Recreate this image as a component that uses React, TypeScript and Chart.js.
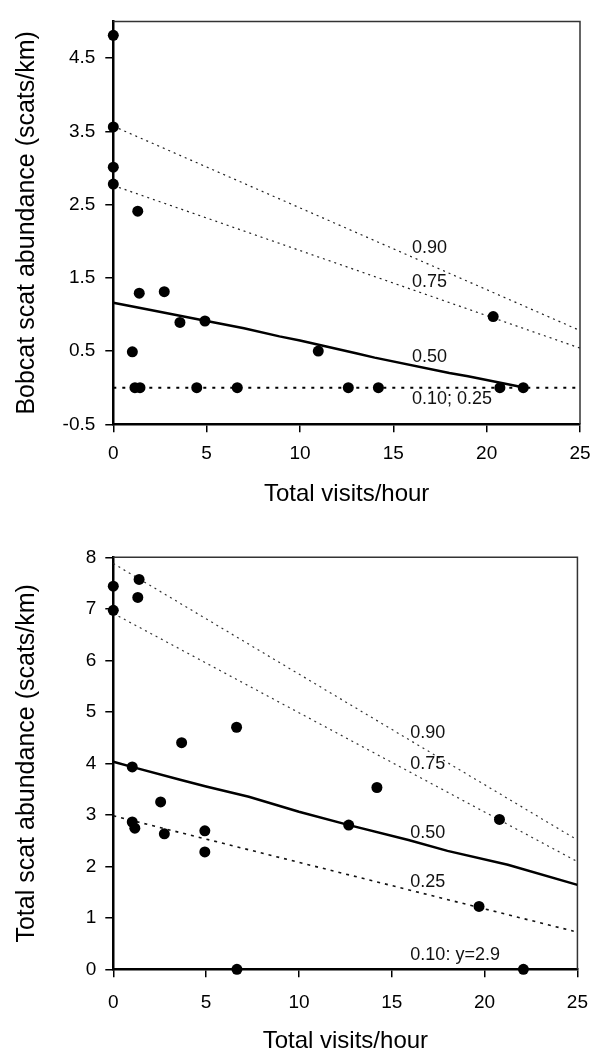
import React, { useEffect, useRef } from "react";
import { Chart, registerables } from "chart.js";

Chart.register(...registerables);

const FONT = "'Liberation Sans', Arial, Helvetica, sans-serif";

// ---------- shared axis ----------
const X_TICKS = [0, 5, 10, 15, 20, 25];
const X_TITLE = "Total visits/hour";

// ---------- top chart: bobcat ----------
const BOBCAT_Y_TICKS = [-0.5, 0.5, 1.5, 2.5, 3.5, 4.5];
const BOBCAT_Y_TITLE = "Bobcat scat abundance (scats/km)";
const BOBCAT_X = [0, 0, 0, 0, 1.31, 1.39, 2.73, 3.57, 4.91, 1.02, 1.16, 1.43, 4.47, 6.64, 10.98, 12.59, 14.2, 20.35, 20.71, 21.96];
const BOBCAT_Y = [4.81, 3.56, 3.01, 2.78, 2.41, 1.29, 1.31, 0.89, 0.91, 0.49, 0, 0, 0, 0, 0.5, 0, 0, 0.97, 0, 0];

const BOBCAT_Q90_X = [0, 25];
const BOBCAT_Q90_Y = [3.57, 0.78];
const BOBCAT_Q75_X = [0, 25];
const BOBCAT_Q75_Y = [2.76, 0.54];
const BOBCAT_Q50_X = [0, 2, 5, 7, 8.9, 10, 13, 14, 18, 19, 21.6, 22];
const BOBCAT_Q50_Y = [1.16, 1.06, 0.91, 0.81, 0.7, 0.645, 0.47, 0.41, 0.2, 0.157, 0.023, 0];
const BOBCAT_Q10_X = [0, 25];
const BOBCAT_Q10_Y = [0, 0];

const BOBCAT_LABEL_TEXT = ["0.90", "0.75", "0.50", "0.10; 0.25"];
const BOBCAT_LABEL_X = [16, 16, 16, 16];
const BOBCAT_LABEL_Y = [1.91, 1.44, 0.42, -0.16];

// ---------- bottom chart: total ----------
const TOTAL_Y_TICKS = [0, 1, 2, 3, 4, 5, 6, 7, 8];
const TOTAL_Y_TITLE = "Total scat abundance (scats/km)";
const TOTAL_X = [0, 0, 1.39, 1.32, 3.68, 6.64, 1.02, 2.55, 1.02, 1.16, 2.75, 4.93, 4.93, 6.66, 14.2, 12.68, 20.8, 19.7, 22.09];
const TOTAL_Y = [7.44, 6.97, 7.57, 7.22, 4.4, 4.7, 3.93, 3.25, 2.86, 2.74, 2.63, 2.69, 2.28, 0, 3.53, 2.8, 2.91, 1.22, 0];

const TOTAL_Q90_X = [0, 25];
const TOTAL_Q90_Y = [7.88, 2.51];
const TOTAL_Q75_X = [0, 25];
const TOTAL_Q75_Y = [6.91, 2.09];
const TOTAL_Q50_X = [0, 1, 3.6, 5, 7.3, 10, 12.7, 15.9, 18, 21.25, 25];
const TOTAL_Q50_Y = [4.03, 3.93, 3.68, 3.55, 3.35, 3.06, 2.8, 2.51, 2.3, 2.03, 1.64];
const TOTAL_Q25_X = [0, 24.8];
const TOTAL_Q25_Y = [2.98, 0.74];

const TOTAL_LABEL_TEXT = ["0.90", "0.75", "0.50", "0.25", "0.10: y=2.9"];
const TOTAL_LABEL_X = [16, 16, 16, 16, 16];
const TOTAL_LABEL_Y = [4.58, 3.99, 2.64, 1.7, 0.28];

const zip = (xs: number[], ys: number[]) => xs.map((x, i) => ({ x, y: ys[i] }));

type LineSpec = { xs: number[]; ys: number[]; dash: number[]; color: string; width: number };

type Spec = {
  px: number[];
  py: number[];
  lines: LineSpec[];
  labelText: string[];
  labelX: number[];
  labelY: number[];
  yMin: number;
  yMax: number;
  yTicks: number[];
  yTitle: string;
  padTop: number;
  padBottom: number;
  xAxisHeight: number;
  xTickPad: number;
  yTickPad: number;
};

function makeChart(canvas: HTMLCanvasElement, s: Spec) {
  const plugin = {
    id: "frameAndLabels",
    beforeDatasetsDraw(chart: any) {
      const { ctx, chartArea } = chart;
      ctx.save();
      ctx.strokeStyle = "#333";
      ctx.lineWidth = 1.5;
      ctx.beginPath();
      ctx.moveTo(chartArea.left, chartArea.top);
      ctx.lineTo(chartArea.right, chartArea.top);
      ctx.lineTo(chartArea.right, chartArea.bottom);
      ctx.stroke();
      ctx.restore();
    },
    afterDatasetsDraw(chart: any) {
      const { ctx } = chart;
      const xs = chart.scales.x;
      const ys = chart.scales.y;
      ctx.save();
      ctx.font = `18px ${FONT}`;
      ctx.fillStyle = "#111";
      ctx.textAlign = "left";
      ctx.textBaseline = "middle";
      s.labelText.forEach((t, i) => {
        ctx.fillText(t, xs.getPixelForValue(s.labelX[i]), ys.getPixelForValue(s.labelY[i]));
      });
      ctx.restore();
    },
  };

  const datasets: any[] = [
    {
      data: zip(s.px, s.py),
      showLine: false,
      pointRadius: 5.5,
      pointHoverRadius: 5.5,
      pointBackgroundColor: "#000",
      pointBorderWidth: 0,
      clip: false,
    },
    ...s.lines.map((l) => ({
      data: zip(l.xs, l.ys),
      showLine: true,
      pointRadius: 0,
      borderColor: l.color,
      borderWidth: l.width,
      borderDash: l.dash,
      tension: 0,
      fill: false,
    })),
  ];

  const tickGrid = {
    display: true,
    drawOnChartArea: false,
    drawTicks: true,
    tickLength: 8,
    color: "#000",
    lineWidth: 1.5,
  };

  return new Chart(canvas, {
    type: "scatter",
    data: { datasets },
    plugins: [plugin],
    options: {
      animation: false,
      responsive: false,
      devicePixelRatio: 1,
      events: [],
      layout: { padding: { top: s.padTop, right: 22, bottom: s.padBottom, left: 0 } },
      plugins: { legend: { display: false }, tooltip: { enabled: false } },
      scales: {
        x: {
          type: "linear",
          min: 0,
          max: 25,
          afterBuildTicks: (sc: any) => {
            sc.ticks = X_TICKS.map((v) => ({ value: v }));
          },
          afterFit: (sc: any) => {
            sc.height = s.xAxisHeight;
          },
          ticks: {
            font: { family: FONT, size: 19 },
            color: "#000",
            padding: s.xTickPad,
            maxRotation: 0,
            callback: (v: any) => String(v),
          },
          grid: tickGrid,
          border: { display: true, color: "#000", width: 2.5 },
          title: {
            display: true,
            text: X_TITLE,
            font: { family: FONT, size: 24 },
            color: "#000",
            padding: 0,
          },
        },
        y: {
          type: "linear",
          min: s.yMin,
          max: s.yMax,
          afterBuildTicks: (sc: any) => {
            sc.ticks = s.yTicks.map((v) => ({ value: v }));
          },
          afterFit: (sc: any) => {
            sc.width = 113.3;
          },
          ticks: {
            font: { family: FONT, size: 19 },
            color: "#000",
            padding: s.yTickPad,
            callback: (v: any) => String(v),
          },
          grid: tickGrid,
          border: { display: true, color: "#000", width: 2.5 },
          title: {
            display: true,
            text: s.yTitle,
            font: { family: FONT, size: 25 },
            color: "#000",
            padding: { top: 12, bottom: 0 },
          },
        },
      },
    } as any,
  });
}

const topSpec: Spec = {
  px: BOBCAT_X,
  py: BOBCAT_Y,
  lines: [
    { xs: BOBCAT_Q50_X, ys: BOBCAT_Q50_Y, dash: [], color: "#000", width: 2.5 },
    { xs: BOBCAT_Q90_X, ys: BOBCAT_Q90_Y, dash: [2, 4], color: "#222", width: 1.2 },
    { xs: BOBCAT_Q75_X, ys: BOBCAT_Q75_Y, dash: [2, 4], color: "#222", width: 1.2 },
    { xs: BOBCAT_Q10_X, ys: BOBCAT_Q10_Y, dash: [3, 6], color: "#000", width: 2 },
  ],
  labelText: BOBCAT_LABEL_TEXT,
  labelX: BOBCAT_LABEL_X,
  labelY: BOBCAT_LABEL_Y,
  yMin: -0.5,
  yMax: 5,
  yTicks: BOBCAT_Y_TICKS,
  yTitle: BOBCAT_Y_TITLE,
  padTop: 12,
  padBottom: 19.1,
  xAxisHeight: 84.6,
  xTickPad: 10,
  yTickPad: 10,
};

const bottomSpec: Spec = {
  px: TOTAL_X,
  py: TOTAL_Y,
  lines: [
    { xs: TOTAL_Q50_X, ys: TOTAL_Q50_Y, dash: [], color: "#000", width: 2.5 },
    { xs: TOTAL_Q90_X, ys: TOTAL_Q90_Y, dash: [2, 4], color: "#333", width: 1.2 },
    { xs: TOTAL_Q75_X, ys: TOTAL_Q75_Y, dash: [2, 4], color: "#333", width: 1.2 },
    { xs: TOTAL_Q25_X, ys: TOTAL_Q25_Y, dash: [3, 5], color: "#111", width: 1.6 },
  ],
  labelText: TOTAL_LABEL_TEXT,
  labelX: TOTAL_LABEL_X,
  labelY: TOTAL_LABEL_Y,
  yMin: 0,
  yMax: 8,
  yTicks: TOTAL_Y_TICKS,
  yTitle: TOTAL_Y_TITLE,
  padTop: 29.3,
  padBottom: 0,
  xAxisHeight: 86.7,
  xTickPad: 14,
  yTickPad: 9,
};

export default function App() {
  const topRef = useRef<HTMLCanvasElement>(null);
  const botRef = useRef<HTMLCanvasElement>(null);

  useEffect(() => {
    const c1 = makeChart(topRef.current!, topSpec);
    const c2 = makeChart(botRef.current!, bottomSpec);
    return () => {
      c1.destroy();
      c2.destroy();
    };
  }, []);

  return (
    <div style={{ position: "absolute", left: 0, top: 0, width: 602, height: 1056, background: "#fff" }}>
      <canvas ref={topRef} width={602} height={528} style={{ display: "block", width: 602, height: 528 }} />
      <canvas ref={botRef} width={602} height={528} style={{ display: "block", width: 602, height: 528 }} />
    </div>
  );
}
